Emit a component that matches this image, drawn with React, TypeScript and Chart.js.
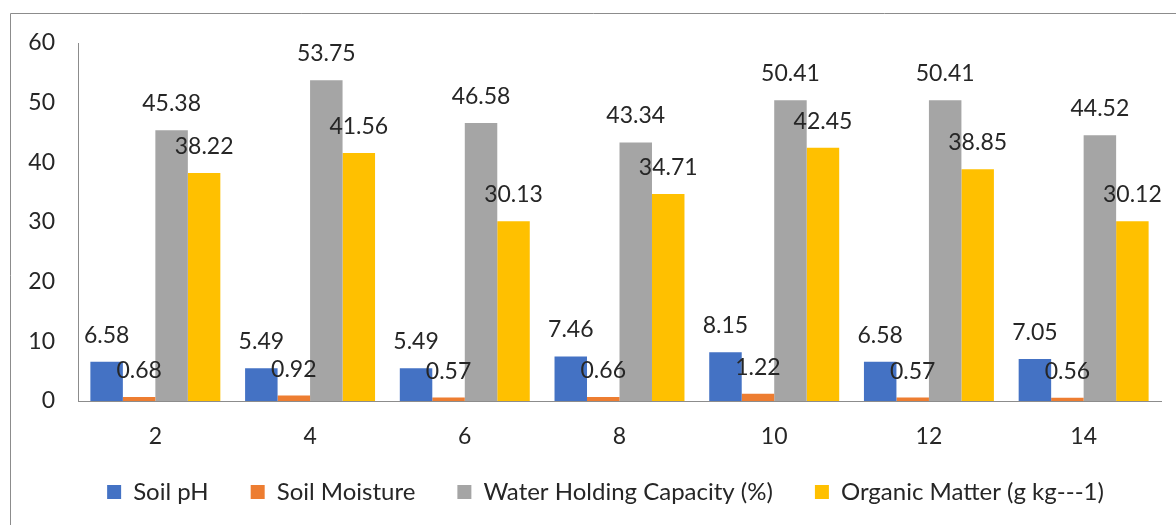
import React, { useEffect, useRef } from "react";
import { Chart, registerables } from "chart.js";

Chart.register(...registerables);

const categories = ["2", "4", "6", "8", "10", "12", "14"];
const soilPH = [6.58, 5.49, 5.49, 7.46, 8.15, 6.58, 7.05];
const soilMoisture = [0.68, 0.92, 0.57, 0.66, 1.22, 0.57, 0.56];
const waterHolding = [45.38, 53.75, 46.58, 43.34, 50.41, 50.41, 44.52];
const organicMatter = [38.22, 41.56, 30.13, 34.71, 42.45, 38.85, 30.12];
const seriesNames = [
  "Soil pH",
  "Soil Moisture",
  "Water Holding Capacity (%)",
  "Organic Matter (g kg---1)",
];
const seriesColors = ["#4472C4", "#ED7D31", "#A5A5A5", "#FFC000"];
const yTicks = [0, 10, 20, 30, 40, 50, 60];

const FONT = "Lato, 'Open Sans', sans-serif";

const framePlugin = {
  id: "frame",
  beforeDraw(chart: any) {
    const ctx = chart.ctx;
    ctx.save();
    ctx.strokeStyle = "#8c8c8c";
    ctx.lineWidth = 1;
    ctx.beginPath();
    ctx.moveTo(10.5, chart.height);
    ctx.lineTo(10.5, 13.5);
    ctx.lineTo(chart.width, 13.5);
    ctx.stroke();
    ctx.restore();
  },
};

const legendShiftPlugin = {
  id: "legendShift",
  afterLayout(chart: any) {
    const lg = chart.legend;
    if (lg) {
      lg.top -= 23;
      lg.bottom -= 23;
      lg.left += 20;
      lg.right += 20;
    }
  },
};

const labelPlugin = {
  id: "barLabels",
  afterDatasetsDraw(chart: any) {
    const ctx = chart.ctx;
    ctx.save();
    ctx.font = `23px ${FONT}`;
    ctx.fillStyle = "#262626";
    ctx.textAlign = "center";
    ctx.textBaseline = "alphabetic";
    chart.data.datasets.forEach((ds: any, i: number) => {
      const meta = chart.getDatasetMeta(i);
      meta.data.forEach((bar: any, j: number) => {
        const v = ds.data[j];
        ctx.fillText(v.toFixed(2), bar.x, bar.y - 19);
      });
    });
    ctx.restore();
  },
};

export default function App() {
  const ref = useRef<HTMLCanvasElement>(null);
  useEffect(() => {
    if (!ref.current) return;
    const data = [soilPH, soilMoisture, waterHolding, organicMatter];
    const chart = new Chart(ref.current, {
      type: "bar",
      data: {
        labels: categories,
        datasets: data.map((d, i) => ({
          label: seriesNames[i],
          data: d,
          backgroundColor: seriesColors[i],
          borderWidth: 0,
          categoryPercentage: 0.84,
          barPercentage: 1,
        })),
      },
      options: {
        animation: false,
        responsive: true,
        maintainAspectRatio: false,
        layout: { padding: { left: 10, right: 15, top: 43, bottom: 0 } },
        plugins: {
          tooltip: { enabled: false },
          legend: {
            position: "bottom",
            labels: {
              boxWidth: 14,
              boxHeight: 14,
              padding: 42,
              color: "#262626",
              font: { family: FONT, size: 24 },
            },
          },
        },
        scales: {
          x: {
            grid: { display: false, drawTicks: false },
            border: { display: true, color: "#8c8c8c" },
            ticks: {
              padding: 22,
              color: "#262626",
              font: { family: FONT, size: 23 },
            },
            afterFit: (s: any) => {
              s.height = 60;
            },
          },
          y: {
            min: 0,
            max: 60,
            grid: { display: false, drawTicks: false },
            border: { display: true, color: "#8c8c8c" },
            afterBuildTicks: (s: any) => {
              s.ticks = yTicks.map((v) => ({ value: v }));
            },
            ticks: {
              padding: 23,
              color: "#262626",
              font: { family: FONT, size: 23 },
            },
            afterFit: (s: any) => {
              s.width = 68;
            },
          },
        },
      },
      plugins: [framePlugin, legendShiftPlugin, labelPlugin],
    });
    return () => chart.destroy();
  }, []);
  return (
    <div
      style={{
        position: "fixed",
        left: 0,
        top: 0,
        width: 1176,
        height: 537,
        background: "#fff",
      }}
    >
      <canvas ref={ref} />
    </div>
  );
}
